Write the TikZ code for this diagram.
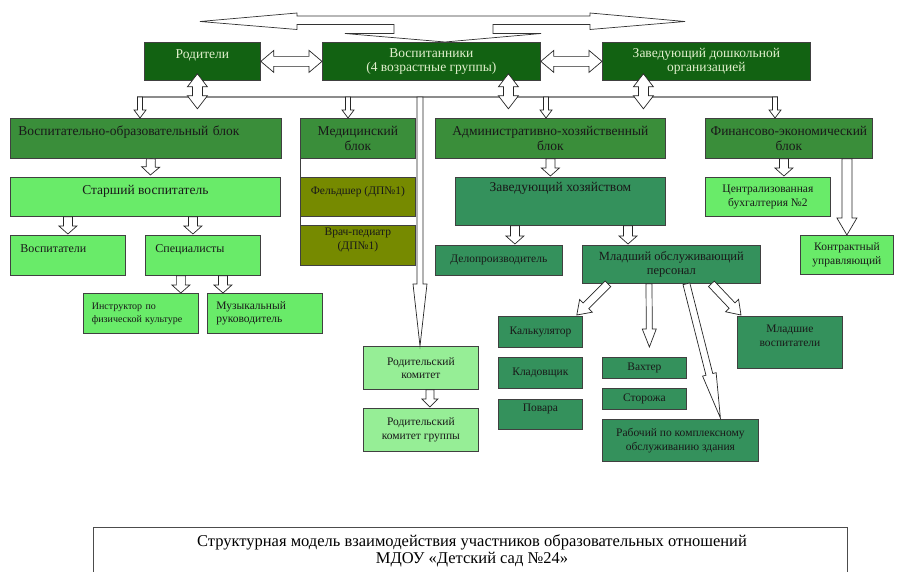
\documentclass[tikz,border=0pt]{standalone}
\usepackage{fontspec}
\setmainfont{Liberation Serif}
\usetikzlibrary{calc}

\definecolor{topgreen}{RGB}{18,98,18}
\definecolor{blockgreen}{RGB}{58,142,58}
\definecolor{lightgreen}{RGB}{105,235,105}
\definecolor{palegreen}{RGB}{150,238,150}
\definecolor{olivegreen}{RGB}{118,138,0}
\definecolor{tealgreen}{RGB}{52,145,92}
\definecolor{paletext}{RGB}{225,240,205}

\tikzset{
  box/.style={draw=black!75, line width=0.8pt, inner sep=1pt, align=center,
    anchor=north west, text=black!90, font=\fontsize{11.5}{13.5}\selectfont},
  big/.style={font=\fontsize{13.5}{14.5}\selectfont},
  wh/.style 2 args={minimum width=#1, minimum height=#2},
  topbox/.style={box, big, fill=topgreen, text=paletext},
  blockbox/.style={box, big, fill=blockgreen},
  lightbox/.style={box, fill=lightgreen},
  palebox/.style={box, fill=palegreen},
  olivebox/.style={box, fill=olivegreen},
  tealbox/.style={box, fill=tealgreen},
  % hollow block arrow: {half shaft}{half head}{head length}
  harrow/.style n args={3}{fill=white, draw=black!85, line width=0.7pt,
    to path={-- ($(\tikztostart)!#1!90:(\tikztotarget)$)
      -- ($(\tikztotarget)!#3!(\tikztostart)!#1!-90:(\tikztostart)$)
      -- ($(\tikztotarget)!#3!(\tikztostart)!#2!-90:(\tikztostart)$)
      -- (\tikztotarget)
      -- ($(\tikztotarget)!#3!(\tikztostart)!#2!90:(\tikztostart)$)
      -- ($(\tikztotarget)!#3!(\tikztostart)!#1!90:(\tikztostart)$)
      -- ($(\tikztostart)!#1!-90:(\tikztotarget)$) -- cycle}},
  harrowb/.style n args={3}{fill=white, draw=black!85, line width=0.7pt,
    to path={-- ($(\tikztostart)!#3!(\tikztotarget)!#2!90:(\tikztotarget)$)
      -- ($(\tikztostart)!#3!(\tikztotarget)!#1!90:(\tikztotarget)$)
      -- ($(\tikztotarget)!#3!(\tikztostart)!#1!-90:(\tikztostart)$)
      -- ($(\tikztotarget)!#3!(\tikztostart)!#2!-90:(\tikztostart)$)
      -- (\tikztotarget)
      -- ($(\tikztotarget)!#3!(\tikztostart)!#2!90:(\tikztostart)$)
      -- ($(\tikztotarget)!#3!(\tikztostart)!#1!90:(\tikztostart)$)
      -- ($(\tikztostart)!#3!(\tikztotarget)!#1!-90:(\tikztotarget)$)
      -- ($(\tikztostart)!#3!(\tikztotarget)!#2!-90:(\tikztotarget)$) -- cycle}},
}

\begin{document}
\begin{tikzpicture}[x=1pt, y=-1pt]
\useasboundingbox (0,0) rectangle (897,572);

% big arrow over the top row
\filldraw[fill=white, draw=black!80, line width=0.7pt]
  (200,21.5) -- (297,13) -- (297,16) -- (590,16) -- (590,13) -- (685,21.5)
  -- (590,29.5) -- (590,24.5) -- (493,24.5) -- (493,33.5) -- (541,33.5)
  -- (445,42) -- (345,33.5) -- (394,33.5) -- (394,24.5) -- (297,24.5)
  -- (297,29.5) -- cycle;

% top row
\node[topbox, wh={116}{38}] (rod) at (144,42) {Родители\\~};
\node[topbox, wh={218}{38}] (vosp) at (322,42) {Воспитанники\\(4 возрастные группы)};
\node[topbox, wh={208}{38}] (zav) at (602,42) {Заведующий дошкольной\\организацией};

% blocks
\node[blockbox, wh={271}{40}, text width=255, align=left] (vob) at (10,118)
  {Воспитательно-образовательный блок\\~};
\node[blockbox, wh={115}{40}] (med) at (300,118) {Медицинский\\блок};
\node[blockbox, wh={230}{40}] (ahb) at (435,118) {Административно-хозяйственный\\блок};
\node[blockbox, wh={167}{40}] (feb) at (705,118) {Финансово-экономический\\блок};

% second level
\node[lightbox, big, wh={270}{39}] (stv) at (10,177) {Старший воспитатель\\~};
\node[olivebox, wh={115}{39}] (feld) at (300,177) {Фельдшер (ДП№1)\\~};
\node[olivebox, wh={115}{40}] (vrach) at (300,225) {Врач-педиатр\\(ДП№1)\\~};
\node[tealbox, big, wh={210}{48}] (zavh) at (455,177) {Заведующий хозяйством\\~\\~};
\node[lightbox, wh={125}{39}] (buh) at (705,177) {Централизованная\\бухгалтерия №2};

% third level
\node[lightbox, font=\fontsize{12}{14}\selectfont, wh={115}{40}, text width=95, align=left]
  (vospit) at (10,235) {Воспитатели\\~};
\node[lightbox, font=\fontsize{12}{14}\selectfont, wh={115}{40}, text width=95, align=left]
  (spec) at (145,235) {Специалисты\\~};
\node[tealbox, wh={127}{30}] (delo) at (435,245) {Делопроизводитель};
\node[tealbox, font=\fontsize{12.5}{14}\selectfont, wh={178}{38}] (mop) at (582,245)
  {Младший обслуживающий\\персонал};
\node[lightbox, wh={93}{39}] (kontr) at (800,235) {Контрактный\\управляющий};

% fourth level
\node[lightbox, font=\fontsize{10}{13}\selectfont, wh={115}{40}, text width=98, align=left]
  (instr) at (83,293) {Инструктор по\\физической культуре};
\node[lightbox, wh={115}{40}, text width=97, align=left] (muz) at (207,293)
  {Музыкальный\\руководитель};
\node[palebox, wh={115}{43}] (rk) at (363,346) {Родительский\\комитет};
\node[palebox, wh={115}{43}] (rkg) at (363,408) {Родительский\\комитет группы};
\node[tealbox, wh={84}{31}] (kalk) at (498,316) {Калькулятор};
\node[tealbox, wh={84}{31}] (klad) at (498,357) {Кладовщик};
\node[tealbox, wh={84}{30}] (povar) at (498,399) {Повара\\~};
\node[tealbox, wh={84}{21}] (vaht) at (602,357) {Вахтер};
\node[tealbox, wh={84}{21}] (stor) at (602,388) {Сторожа};
\node[tealbox, wh={156}{42}] (rab) at (602,419) {Рабочий по комплексному\\обслуживанию здания};
\node[tealbox, wh={105}{52}] (mlv) at (737,316) {Младшие\\воспитатели\\~};

\draw[black!75, line width=0.8pt] (med.south west) -- (vrach.north west);

% bus line
\draw[black!45, line width=1.2pt] (137,97) -- (778,97);
\coordinate (b1) at (140,97);
\coordinate (b2) at (348,97);
\coordinate (b3) at (546,97);
\coordinate (b4) at (775,97);
\coordinate (b5) at (420,97);

% title
\draw[black!70, line width=1pt] (93,572) -- (93,527) -- (847,527) -- (847,572);
\node[font=\fontsize{16.5}{16.5}\selectfont, align=center] (title) at (472,551)
  {Структурная модель взаимодействия участников образовательных отношений\\
   МДОУ «Детский сад №24»};

% arrows, top
\draw[harrowb={5pt}{11pt}{13pt}] (rod.east) to (vosp.west);
\draw[harrowb={5pt}{11pt}{13pt}] (vosp.east) to (zav.west);
\draw[harrowb={5pt}{10pt}{13pt}] ([xshift=-5pt,yshift=7pt]rod.south) to ([xshift=-5pt,yshift=-28pt]rod.south);
\draw[harrowb={5pt}{10pt}{13pt}] ([xshift=77pt,yshift=7pt]vosp.south) to ([xshift=77pt,yshift=-28pt]vosp.south);
\draw[harrowb={5pt}{10pt}{13pt}] ([xshift=-63pt,yshift=7pt]zav.south) to ([xshift=-63pt,yshift=-28pt]zav.south);

% arrows from the bus
\draw[harrow={2.5pt}{6pt}{8pt}] (b1) to (b1 |- vob.north);
\draw[harrow={2.5pt}{6pt}{8pt}] (b2) to (b2 |- med.north);
\draw[harrow={2.5pt}{6pt}{8pt}] (b3) to (b3 |- ahb.north);
\draw[harrow={2.5pt}{6pt}{8pt}] (b4) to (b4 |- feb.north);
\draw[harrow={3pt}{7pt}{62pt}] (b5) to (b5 |- rk.north);

% arrows between levels
\draw[harrow={4.5pt}{9pt}{8pt}] ($(vob.south)+(5,0)$) to ($(stv.north)+(5,-2)$);
\draw[harrow={4.5pt}{9pt}{8pt}] (vospit.north |- stv.south) to ($(vospit.north)+(0,-1)$);
\draw[harrow={4.5pt}{9pt}{8pt}] ($(spec.north |- stv.south)+(-10,0)$) to ($(spec.north)+(-10,-1)$);
\draw[harrow={4.5pt}{9pt}{8pt}] ($(spec.south)+(-22,0)$) to ($(instr.north east)+(-18,0)$);
\draw[harrow={4.5pt}{9pt}{8pt}] ($(spec.south)+(20,0)$) to ($(muz.north west)+(16,0)$);
\draw[harrow={4.5pt}{9pt}{8pt}] (ahb.south) to ($(ahb.south |- zavh.north)+(0,-1)$);
\draw[harrow={4.5pt}{9pt}{8pt}] ($(delo.north |- zavh.south)+(16,0)$) to ($(delo.north)+(16,-1)$);
\draw[harrow={4.5pt}{9pt}{8pt}] ($(mop.north west |- zavh.south)+(46,0)$) to ($(mop.north west)+(46,-1)$);
\draw[harrow={4.5pt}{9pt}{8pt}] ($(feb.south)+(-5,0)$) to ($(feb.south |- buh.north)+(-5,-1)$);
\draw[harrow={5pt}{10pt}{17pt}] (kontr.north |- feb.south) to (kontr.north);
\draw[harrow={4pt}{8pt}{8pt}] ($(rk.south)+(9,0)$) to ($(rkg.north)+(9,-1)$);

% arrows from the junior staff
\draw[harrow={4pt}{9pt}{13pt}] ($(mop.south west)+(26,0)$) to ($(kalk.north east)+(-6,-1)$);
\draw[harrow={3pt}{7pt}{18pt}] ($(mop.south west)+(67,0)$) to ($(vaht.north)+(5,-10)$);
\draw[harrow={3.5pt}{7pt}{45pt}] ($(mop.south)+(15,0)$) to ($(rab.north)+(40,-1)$);
\draw[harrow={4pt}{9pt}{13pt}] ($(mop.south)+(40,0)$) to ($(mlv.north west)+(4,-1)$);
\end{tikzpicture}
\end{document}
